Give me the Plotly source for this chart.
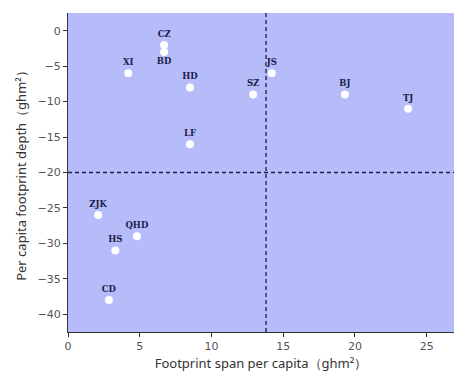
import plotly.graph_objects as go

cities = ["XI", "CZ", "BD", "HD", "LF", "SZ", "JS", "BJ", "TJ", "ZJK", "QHD", "HS", "CD"]
span = [4.2, 6.7, 6.7, 8.5, 8.5, 12.9, 14.2, 19.3, 23.7, 2.1, 4.8, 3.3, 2.85]
depth = [-6, -2, -3, -8, -16, -9, -6, -9, -11, -26, -29, -31, -38]
label_pos = ["top center", "top center", "bottom center", "top center", "top center",
             "top center", "top center", "top center", "top center", "top center",
             "top center", "top center", "top center"]
x_ticks = [0, 5, 10, 15, 20, 25]
y_ticks = [0, -5, -10, -15, -20, -25, -30, -35, -40]
x_split = 13.8
y_split = -20

fig = go.Figure()
fig.add_trace(go.Scatter(
    x=span, y=depth, mode="markers+text", text=cities, textposition=label_pos,
    marker=dict(color="white", size=8, line=dict(width=0)),
    textfont=dict(family="DejaVu Serif", size=8.5, color="#1c1f4a", weight="bold"),
    showlegend=False, cliponaxis=False, hoverinfo="skip",
))
fig.add_shape(type="line", xref="x", yref="paper", x0=x_split, x1=x_split, y0=0, y1=1,
              line=dict(color="#1c2050", width=1.3, dash="4px,3px"))
fig.add_shape(type="line", xref="paper", yref="y", x0=0, x1=1, y0=y_split, y1=y_split,
              line=dict(color="#1c2050", width=1.3, dash="4px,3px"))

axis_common = dict(showgrid=False, zeroline=False, showline=True, linecolor="#333",
                   linewidth=1, ticks="outside", ticklen=4, tickcolor="#333",
                   automargin=False,
                   tickfont=dict(family="DejaVu Sans", size=11, color="#555"))
fig.update_xaxes(range=[0, 26.9], tickvals=x_ticks,
                 title=dict(text="Footprint span per capita（ghm²）",
                            font=dict(family="Noto Sans", size=13, color="#333"), standoff=6),
                 **axis_common)
fig.update_yaxes(range=[-42.5, 2.5], tickvals=y_ticks,
                 title=dict(text="Per capita footprint depth（ghm²）",
                            font=dict(family="Noto Sans", size=13, color="#333"), standoff=8),
                 **axis_common)
fig.update_layout(width=454, height=376, margin=dict(l=68, r=0, t=13, b=44),
                  plot_bgcolor="#b6bcf9", paper_bgcolor="white")
fig.write_html("out.html", config={"displayModeBar": False},
               post_script="document.body.style.margin='0';document.body.style.overflow='hidden';")
